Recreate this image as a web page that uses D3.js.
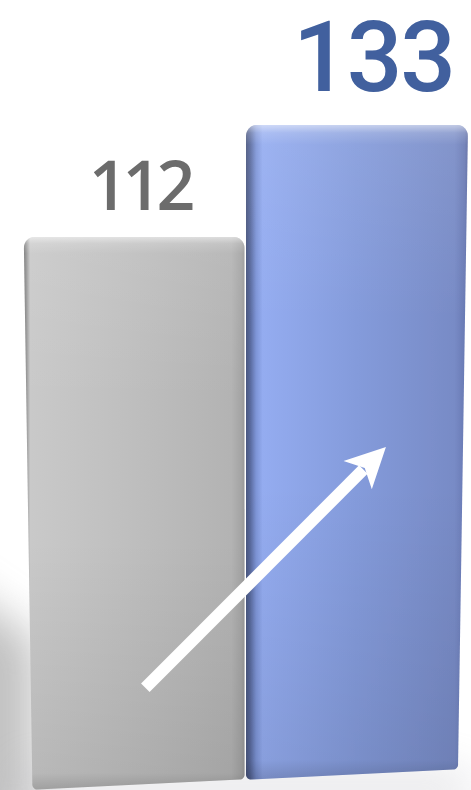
<!DOCTYPE html>
<html>
<head>
<meta charset="utf-8">
<script src="https://cdn.jsdelivr.net/npm/d3@7/dist/d3.min.js"></script>
<style>
  html, body { margin: 0; padding: 0; background: #ffffff; }
  svg { display: block; }
</style>
</head>
<body>
<svg id="chart" width="471" height="790"></svg>
<script>
// Two-bar comparison, drawn as slightly tilted 3D columns
const categories = ["Previous", "Current"];
const values = [112, 133];
const valueLabels = ["112", "133"];

const W = 471, H = 790;
const svg = d3.select("#chart");
const defs = svg.append("defs");

// scales
const x = d3.scaleBand().domain(categories).range([22, 468]).padding(0);
const y = d3.scaleLinear().domain([0, 133]).range([834, 125]);
const bw = x.bandwidth();

// mild perspective: columns narrow toward the floor, floor tilts upward to the right
const cx = 246, k = 0.00007;
const proj = (px, py) => [cx + (px - cx) * (1 - k * (py - 125)), py];
const floorY = px => 789 - (px - 35) * 0.045;

// soft shadows
const fShadow = defs.append("filter").attr("id", "shadowBlur")
  .attr("x", "-100%").attr("y", "-100%").attr("width", "300%").attr("height", "300%");
fShadow.append("feGaussianBlur").attr("stdDeviation", 22);
const fSoft = defs.append("filter").attr("id", "soft")
  .attr("x", "-5%").attr("y", "-5%").attr("width", "110%").attr("height", "110%");
fSoft.append("feGaussianBlur").attr("stdDeviation", 0.6);

svg.append("path")
  .attr("d", "M-80,560 L36,640 L36,830 L-80,830 Z")
  .attr("fill", "#8e8e8e").attr("opacity", 0.55)
  .attr("filter", "url(#shadowBlur)");
svg.append("rect")
  .attr("x", 20).attr("y", 770).attr("width", 450).attr("height", 40)
  .attr("fill", "#b8b8c0").attr("opacity", 0.35)
  .attr("filter", "url(#shadowBlur)");

// gradients per column
const palettes = [
  { h: [[0, "#7a7a7a"], [0.01, "#939393"], [0.028, "#c9c9c9"], [0.5, "#bebebe"], [0.94, "#b3b3b3"], [0.985, "#a4a4a4"], [1, "#979797"]] },
  { h: [[0, "#4a577f"], [0.02, "#5a6b9f"], [0.045, "#7d94d6"], [0.075, "#94acf0"], [0.5, "#849bdb"], [0.94, "#788bc6"], [0.985, "#6a7bb5"], [1, "#5e6ca3"]] }
];
palettes.forEach((p, i) => {
  const g = defs.append("linearGradient").attr("id", "hg" + i)
    .attr("x1", 0).attr("x2", 1).attr("y1", 0).attr("y2", 0);
  p.h.forEach(s => g.append("stop").attr("offset", s[0]).attr("stop-color", s[1]));
});
const vg = defs.append("linearGradient").attr("id", "vshade")
  .attr("x1", 0).attr("x2", 0).attr("y1", 0).attr("y2", 1);
[[0, "#ffffff", 0.55], [0.012, "#ffffff", 0.22], [0.03, "#ffffff", 0.08], [0.3, "#ffffff", 0.0],
 [0.55, "#000000", 0.0], [0.97, "#000000", 0.08], [1, "#000000", 0.2]]
  .forEach(s => vg.append("stop").attr("offset", s[0]).attr("stop-color", s[1]).attr("stop-opacity", s[2]));

// build a column outline with rounded corners, then project it
function columnPath(x0, x1, yt) {
  const rt = 11, rb = 5, pts = [];
  const arc = (ccx, ccy, r, a0, a1) => {
    for (let t = 0; t <= 8; t++) {
      const a = a0 + (a1 - a0) * t / 8;
      pts.push([ccx + r * Math.cos(a), ccy + r * Math.sin(a)]);
    }
  };
  const yb0 = floorY(x0), yb1 = floorY(x1);
  arc(x0 + rb, yb0 - rb, rb, Math.PI / 2, Math.PI);
  arc(x0 + rt, yt + rt, rt, Math.PI, 1.5 * Math.PI);
  arc(x1 - rt, yt + rt, rt, 1.5 * Math.PI, 2 * Math.PI);
  arc(x1 - rb, yb1 - rb, rb, 0, Math.PI / 2);
  return d3.line()(pts.map(p => proj(p[0], p[1]))) + "Z";
}

const bars = svg.append("g").attr("filter", "url(#soft)");
categories.forEach((c, i) => {
  const x0 = x(c) + (i === 0 ? 0 : 1), x1 = x(c) + bw - (i === 0 ? 0.5 : 0);
  const d = columnPath(x0, x1, y(values[i]));
  bars.append("path").attr("d", d).attr("fill", `url(#hg${i})`);
  bars.append("path").attr("d", d).attr("fill", "url(#vshade)");
});

// value labels
const labelStyle = [
  { font: "'Open Sans', sans-serif", size: 68, weight: 600, color: "#6c6c6c", dx: 6, dy: -27, ls: -5 },
  { font: "Roboto, sans-serif", size: 98, weight: 500, color: "#41609e", dx: 17, dy: -34, ls: -2 }
];
svg.selectAll("text.value").data(categories).join("text")
  .attr("class", "value")
  .attr("x", (c, i) => x(c) + bw / 2 + labelStyle[i].dx)
  .attr("y", (c, i) => y(values[i]) + labelStyle[i].dy)
  .attr("text-anchor", "middle")
  .attr("font-family", (c, i) => labelStyle[i].font)
  .attr("font-size", (c, i) => labelStyle[i].size)
  .attr("font-weight", (c, i) => labelStyle[i].weight)
  .attr("letter-spacing", (c, i) => labelStyle[i].ls)
  .attr("fill", (c, i) => labelStyle[i].color)
  .text((c, i) => valueLabels[i]);

// growth arrow from the first column into the second
const tail = [x(categories[0]) + bw * 0.553, y(values[0] * 0.245)];
const tip = [x(categories[1]) + bw * 0.632, y(values[1] * 0.546)];
const dxA = tip[0] - tail[0], dyA = tip[1] - tail[1];
const len = Math.hypot(dxA, dyA);
const ux = dxA / len, uy = dyA / len, nx = -uy, ny = ux;
const headLen = 40, headHalf = 20, notch = 30;
const shaftEnd = [tip[0] - ux * (notch + 2), tip[1] - uy * (notch + 2)];
const arrow = svg.append("g");
arrow.append("line")
  .attr("x1", tail[0]).attr("y1", tail[1])
  .attr("x2", shaftEnd[0]).attr("y2", shaftEnd[1])
  .attr("stroke", "#ffffff").attr("stroke-width", 12).attr("stroke-linecap", "butt");
const base = [tip[0] - ux * headLen, tip[1] - uy * headLen];
const nb = [tip[0] - ux * notch, tip[1] - uy * notch];
arrow.append("path")
  .attr("d", d3.line()([
    tip,
    [base[0] + nx * headHalf, base[1] + ny * headHalf],
    nb,
    [base[0] - nx * headHalf, base[1] - ny * headHalf]
  ]) + "Z")
  .attr("fill", "#ffffff");
</script>
</body>
</html>
